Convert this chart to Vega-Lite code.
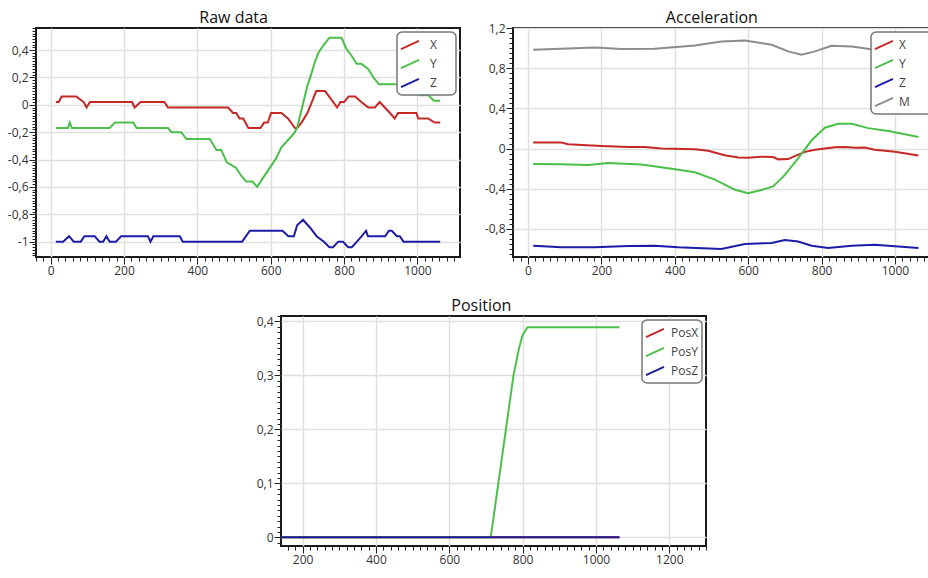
{
  "$schema": "https://vega.github.io/schema/vega-lite/v6.json",
  "background": "white",
  "padding": {"left": 6, "top": 9, "right": 0, "bottom": 0},
  "resolve": {"scale": {"color": "independent"}, "legend": {"color": "independent"}},
  "datasets": {
    "raw": [
      {"s": "X", "t": 14, "v": 0.02}, {"s": "X", "t": 22, "v": 0.02}, {"s": "X", "t": 30, "v": 0.06}, {"s": "X", "t": 70, "v": 0.06}, {"s": "X", "t": 90, "v": 0.02}, {"s": "X", "t": 98, "v": -0.02}, {"s": "X", "t": 107, "v": 0.02}, {"s": "X", "t": 222, "v": 0.02}, {"s": "X", "t": 229, "v": -0.02}, {"s": "X", "t": 245, "v": 0.02}, {"s": "X", "t": 310, "v": 0.02}, {"s": "X", "t": 320, "v": -0.02}, {"s": "X", "t": 484, "v": -0.02}, {"s": "X", "t": 497, "v": -0.06}, {"s": "X", "t": 506, "v": -0.06}, {"s": "X", "t": 515, "v": -0.1}, {"s": "X", "t": 525, "v": -0.1}, {"s": "X", "t": 539, "v": -0.17}, {"s": "X", "t": 572, "v": -0.17}, {"s": "X", "t": 582, "v": -0.13}, {"s": "X", "t": 592, "v": -0.13}, {"s": "X", "t": 601, "v": -0.06}, {"s": "X", "t": 629, "v": -0.06}, {"s": "X", "t": 647, "v": -0.1}, {"s": "X", "t": 666, "v": -0.17}, {"s": "X", "t": 672, "v": -0.17}, {"s": "X", "t": 684, "v": -0.13}, {"s": "X", "t": 700, "v": -0.06}, {"s": "X", "t": 712, "v": 0.02}, {"s": "X", "t": 724, "v": 0.1}, {"s": "X", "t": 748, "v": 0.1}, {"s": "X", "t": 765, "v": 0.04}, {"s": "X", "t": 781, "v": -0.02}, {"s": "X", "t": 790, "v": 0.02}, {"s": "X", "t": 800, "v": 0.02}, {"s": "X", "t": 812, "v": 0.06}, {"s": "X", "t": 830, "v": 0.06}, {"s": "X", "t": 847, "v": 0.02}, {"s": "X", "t": 866, "v": -0.02}, {"s": "X", "t": 884, "v": -0.02}, {"s": "X", "t": 897, "v": 0.02}, {"s": "X", "t": 911, "v": -0.02}, {"s": "X", "t": 925, "v": -0.06}, {"s": "X", "t": 938, "v": -0.1}, {"s": "X", "t": 947, "v": -0.06}, {"s": "X", "t": 997, "v": -0.06}, {"s": "X", "t": 1002, "v": -0.1}, {"s": "X", "t": 1029, "v": -0.1}, {"s": "X", "t": 1047, "v": -0.13}, {"s": "X", "t": 1062, "v": -0.13},
      {"s": "Y", "t": 14, "v": -0.17}, {"s": "Y", "t": 47, "v": -0.17}, {"s": "Y", "t": 52, "v": -0.13}, {"s": "Y", "t": 58, "v": -0.17}, {"s": "Y", "t": 161, "v": -0.17}, {"s": "Y", "t": 175, "v": -0.13}, {"s": "Y", "t": 225, "v": -0.13}, {"s": "Y", "t": 234, "v": -0.17}, {"s": "Y", "t": 320, "v": -0.17}, {"s": "Y", "t": 329, "v": -0.2}, {"s": "Y", "t": 356, "v": -0.2}, {"s": "Y", "t": 370, "v": -0.25}, {"s": "Y", "t": 434, "v": -0.25}, {"s": "Y", "t": 443, "v": -0.29}, {"s": "Y", "t": 452, "v": -0.33}, {"s": "Y", "t": 465, "v": -0.33}, {"s": "Y", "t": 480, "v": -0.42}, {"s": "Y", "t": 493, "v": -0.44}, {"s": "Y", "t": 505, "v": -0.46}, {"s": "Y", "t": 520, "v": -0.52}, {"s": "Y", "t": 533, "v": -0.56}, {"s": "Y", "t": 550, "v": -0.56}, {"s": "Y", "t": 563, "v": -0.6}, {"s": "Y", "t": 580, "v": -0.53}, {"s": "Y", "t": 600, "v": -0.45}, {"s": "Y", "t": 615, "v": -0.39}, {"s": "Y", "t": 629, "v": -0.31}, {"s": "Y", "t": 643, "v": -0.27}, {"s": "Y", "t": 663, "v": -0.21}, {"s": "Y", "t": 672, "v": -0.17}, {"s": "Y", "t": 680, "v": -0.08}, {"s": "Y", "t": 690, "v": 0.03}, {"s": "Y", "t": 700, "v": 0.14}, {"s": "Y", "t": 710, "v": 0.22}, {"s": "Y", "t": 720, "v": 0.31}, {"s": "Y", "t": 730, "v": 0.38}, {"s": "Y", "t": 745, "v": 0.44}, {"s": "Y", "t": 760, "v": 0.49}, {"s": "Y", "t": 793, "v": 0.49}, {"s": "Y", "t": 806, "v": 0.41}, {"s": "Y", "t": 820, "v": 0.36}, {"s": "Y", "t": 834, "v": 0.3}, {"s": "Y", "t": 847, "v": 0.3}, {"s": "Y", "t": 866, "v": 0.26}, {"s": "Y", "t": 880, "v": 0.2}, {"s": "Y", "t": 895, "v": 0.15}, {"s": "Y", "t": 975, "v": 0.15}, {"s": "Y", "t": 990, "v": 0.11}, {"s": "Y", "t": 1005, "v": 0.07}, {"s": "Y", "t": 1030, "v": 0.07}, {"s": "Y", "t": 1045, "v": 0.03}, {"s": "Y", "t": 1062, "v": 0.03},
      {"s": "Z", "t": 14, "v": -1}, {"s": "Z", "t": 34, "v": -1}, {"s": "Z", "t": 50, "v": -0.96}, {"s": "Z", "t": 63, "v": -1}, {"s": "Z", "t": 82, "v": -1}, {"s": "Z", "t": 92, "v": -0.96}, {"s": "Z", "t": 120, "v": -0.96}, {"s": "Z", "t": 133, "v": -1}, {"s": "Z", "t": 143, "v": -1}, {"s": "Z", "t": 152, "v": -0.96}, {"s": "Z", "t": 161, "v": -1}, {"s": "Z", "t": 178, "v": -1}, {"s": "Z", "t": 192, "v": -0.96}, {"s": "Z", "t": 265, "v": -0.96}, {"s": "Z", "t": 272, "v": -1}, {"s": "Z", "t": 280, "v": -0.96}, {"s": "Z", "t": 352, "v": -0.96}, {"s": "Z", "t": 360, "v": -1}, {"s": "Z", "t": 522, "v": -1}, {"s": "Z", "t": 543, "v": -0.92}, {"s": "Z", "t": 632, "v": -0.92}, {"s": "Z", "t": 648, "v": -0.96}, {"s": "Z", "t": 663, "v": -0.96}, {"s": "Z", "t": 672, "v": -0.88}, {"s": "Z", "t": 688, "v": -0.84}, {"s": "Z", "t": 708, "v": -0.9}, {"s": "Z", "t": 725, "v": -0.96}, {"s": "Z", "t": 745, "v": -1}, {"s": "Z", "t": 760, "v": -1.04}, {"s": "Z", "t": 770, "v": -1.04}, {"s": "Z", "t": 784, "v": -1}, {"s": "Z", "t": 797, "v": -1}, {"s": "Z", "t": 811, "v": -1.04}, {"s": "Z", "t": 821, "v": -1.04}, {"s": "Z", "t": 835, "v": -1}, {"s": "Z", "t": 848, "v": -0.96}, {"s": "Z", "t": 860, "v": -0.92}, {"s": "Z", "t": 865, "v": -0.96}, {"s": "Z", "t": 912, "v": -0.96}, {"s": "Z", "t": 922, "v": -0.92}, {"s": "Z", "t": 930, "v": -0.92}, {"s": "Z", "t": 944, "v": -0.96}, {"s": "Z", "t": 952, "v": -0.96}, {"s": "Z", "t": 962, "v": -1}, {"s": "Z", "t": 1062, "v": -1}
    ],
    "acc": [
      {"s": "X", "t": 14, "v": 0.059}, {"s": "X", "t": 91, "v": 0.06}, {"s": "X", "t": 109, "v": 0.043}, {"s": "X", "t": 200, "v": 0.026}, {"s": "X", "t": 273, "v": 0.016}, {"s": "X", "t": 318, "v": 0.016}, {"s": "X", "t": 364, "v": 0.0}, {"s": "X", "t": 455, "v": -0.007}, {"s": "X", "t": 491, "v": -0.023}, {"s": "X", "t": 536, "v": -0.066}, {"s": "X", "t": 573, "v": -0.089}, {"s": "X", "t": 600, "v": -0.092}, {"s": "X", "t": 636, "v": -0.082}, {"s": "X", "t": 668, "v": -0.085}, {"s": "X", "t": 682, "v": -0.108}, {"s": "X", "t": 709, "v": -0.105}, {"s": "X", "t": 727, "v": -0.075}, {"s": "X", "t": 755, "v": -0.033}, {"s": "X", "t": 782, "v": -0.013}, {"s": "X", "t": 809, "v": 0.0}, {"s": "X", "t": 836, "v": 0.013}, {"s": "X", "t": 864, "v": 0.016}, {"s": "X", "t": 891, "v": 0.007}, {"s": "X", "t": 918, "v": 0.01}, {"s": "X", "t": 945, "v": -0.013}, {"s": "X", "t": 1000, "v": -0.033}, {"s": "X", "t": 1064, "v": -0.069},
      {"s": "Y", "t": 14, "v": -0.154}, {"s": "Y", "t": 91, "v": -0.157}, {"s": "Y", "t": 164, "v": -0.164}, {"s": "Y", "t": 218, "v": -0.144}, {"s": "Y", "t": 309, "v": -0.16}, {"s": "Y", "t": 382, "v": -0.197}, {"s": "Y", "t": 455, "v": -0.236}, {"s": "Y", "t": 509, "v": -0.31}, {"s": "Y", "t": 564, "v": -0.41}, {"s": "Y", "t": 600, "v": -0.446}, {"s": "Y", "t": 636, "v": -0.413}, {"s": "Y", "t": 668, "v": -0.377}, {"s": "Y", "t": 700, "v": -0.262}, {"s": "Y", "t": 736, "v": -0.098}, {"s": "Y", "t": 773, "v": 0.082}, {"s": "Y", "t": 809, "v": 0.207}, {"s": "Y", "t": 845, "v": 0.246}, {"s": "Y", "t": 882, "v": 0.246}, {"s": "Y", "t": 927, "v": 0.203}, {"s": "Y", "t": 982, "v": 0.174}, {"s": "Y", "t": 1064, "v": 0.115},
      {"s": "Z", "t": 14, "v": -0.967}, {"s": "Z", "t": 91, "v": -0.984}, {"s": "Z", "t": 182, "v": -0.984}, {"s": "Z", "t": 273, "v": -0.97}, {"s": "Z", "t": 345, "v": -0.967}, {"s": "Z", "t": 409, "v": -0.984}, {"s": "Z", "t": 527, "v": -1.0}, {"s": "Z", "t": 591, "v": -0.95}, {"s": "Z", "t": 664, "v": -0.94}, {"s": "Z", "t": 700, "v": -0.911}, {"s": "Z", "t": 736, "v": -0.925}, {"s": "Z", "t": 773, "v": -0.967}, {"s": "Z", "t": 818, "v": -0.99}, {"s": "Z", "t": 882, "v": -0.967}, {"s": "Z", "t": 945, "v": -0.957}, {"s": "Z", "t": 1000, "v": -0.974}, {"s": "Z", "t": 1064, "v": -0.99},
      {"s": "M", "t": 14, "v": 0.984}, {"s": "M", "t": 91, "v": 0.993}, {"s": "M", "t": 182, "v": 1.007}, {"s": "M", "t": 255, "v": 0.99}, {"s": "M", "t": 345, "v": 0.993}, {"s": "M", "t": 455, "v": 1.026}, {"s": "M", "t": 527, "v": 1.066}, {"s": "M", "t": 591, "v": 1.075}, {"s": "M", "t": 664, "v": 1.033}, {"s": "M", "t": 709, "v": 0.967}, {"s": "M", "t": 745, "v": 0.934}, {"s": "M", "t": 782, "v": 0.967}, {"s": "M", "t": 827, "v": 1.023}, {"s": "M", "t": 882, "v": 1.016}, {"s": "M", "t": 945, "v": 0.984}, {"s": "M", "t": 1000, "v": 0.975}, {"s": "M", "t": 1064, "v": 0.97}
    ],
    "pos": [
      {"s": "PosX", "t": 14, "v": 0}, {"s": "PosX", "t": 1064, "v": 0},
      {"s": "PosY", "t": 14, "v": 0}, {"s": "PosY", "t": 713, "v": 0}, {"s": "PosY", "t": 775, "v": 0.3}, {"s": "PosY", "t": 790, "v": 0.35}, {"s": "PosY", "t": 800, "v": 0.375}, {"s": "PosY", "t": 813, "v": 0.389}, {"s": "PosY", "t": 1064, "v": 0.389},
      {"s": "PosZ", "t": 14, "v": 0}, {"s": "PosZ", "t": 1064, "v": 0}
    ]
  },
  "vconcat": [
    {
      "spacing": 22,
      "resolve": {"scale": {"color": "independent"}, "legend": {"color": "independent"}},
      "hconcat": [
        {
          "title": "Raw data",
          "width": 424, "height": 229,
          "data": {"name": "raw"},
          "mark": {"type": "line", "strokeWidth": 2, "clip": true},
          "encoding": {
            "x": {"field": "t", "type": "quantitative", "title": null,
              "scale": {"domain": [-40, 1116], "nice": false, "zero": false},
              "axis": {"tickCount": 58, "labelExpr": "datum.value % 200 === 0 ? toString(datum.value) : ''",
                "tickSize": {"condition": {"test": "datum.value % 200 === 0", "value": 7}, "value": 4},
                "gridOpacity": {"condition": {"test": "datum.value % 200 === 0", "value": 1}, "value": 0}}},
            "y": {"field": "v", "type": "quantitative", "title": null,
              "scale": {"domain": [-1.112, 0.561], "nice": false, "zero": false},
              "axis": {"tickCount": 84, "labelExpr": "abs(datum.value / 0.2 - round(datum.value / 0.2)) < 0.001 ? replace(toString(datum.value), '.', ',') : ''",
                "tickSize": {"condition": {"test": "abs(datum.value / 0.2 - round(datum.value / 0.2)) < 0.001", "value": 7}, "value": 4},
                "gridOpacity": {"condition": {"test": "abs(datum.value / 0.2 - round(datum.value / 0.2)) < 0.001", "value": 1}, "value": 0}}},
            "color": {"field": "s", "type": "nominal",
              "scale": {"domain": ["X", "Y", "Z"], "range": ["#c62828", "#4cbf4a", "#1c1ca8"]},
              "legend": {"orient": "top-right", "labelOffset": 10, "labelExpr": "datum.label + '\u00a0\u00a0\u00a0\u00a0\u00a0\u200b'"}}
          }
        },
        {
          "title": "Acceleration",
          "width": 426, "height": 229,
          "data": {"name": "acc"},
          "mark": {"type": "line", "strokeWidth": 2, "clip": true},
          "encoding": {
            "x": {"field": "t", "type": "quantitative", "title": null,
              "scale": {"domain": [-41, 1120], "nice": false, "zero": false},
              "axis": {"tickCount": 58, "labelExpr": "datum.value % 200 === 0 ? toString(datum.value) : ''",
                "tickSize": {"condition": {"test": "datum.value % 200 === 0", "value": 7}, "value": 4},
                "gridOpacity": {"condition": {"test": "datum.value % 200 === 0", "value": 1}, "value": 0}}},
            "y": {"field": "v", "type": "quantitative", "title": null,
              "scale": {"domain": [-1.08, 1.2], "nice": false, "zero": false},
              "axis": {"tickCount": 46, "labelExpr": "abs(datum.value / 0.4 - round(datum.value / 0.4)) < 0.001 ? replace(toString(datum.value), '.', ',') : ''",
                "tickSize": {"condition": {"test": "abs(datum.value / 0.4 - round(datum.value / 0.4)) < 0.001", "value": 7}, "value": 4},
                "gridOpacity": {"condition": {"test": "abs(datum.value / 0.4 - round(datum.value / 0.4)) < 0.001", "value": 1}, "value": 0}}},
            "color": {"field": "s", "type": "nominal",
              "scale": {"domain": ["X", "Y", "Z", "M"], "range": ["#c62828", "#4cbf4a", "#1c1ca8", "#8c8c8c"]},
              "legend": {"orient": "top-right", "labelOffset": 5, "labelExpr": "datum.label + '\u00a0\u00a0\u00a0\u00a0\u00a0\u00a0\u00a0\u200b'"}}
          }
        }
      ]
    },
    {
      "spacing": 0,
      "resolve": {"scale": {"color": "independent"}, "legend": {"color": "independent"}},
      "hconcat": [
        {
          "width": 219, "height": 10,
          "view": {"stroke": null},
          "data": {"values": []},
          "mark": "point",
          "encoding": {}
        },
        {
          "title": "Position",
          "width": 425, "height": 230,
          "data": {"name": "pos"},
          "mark": {"type": "line", "strokeWidth": 2, "clip": true},
          "encoding": {
            "x": {"field": "t", "type": "quantitative", "title": null,
              "scale": {"domain": [141, 1300], "nice": false, "zero": false},
              "axis": {"tickCount": 58, "labelExpr": "datum.value % 200 === 0 ? toString(datum.value) : ''",
                "tickSize": {"condition": {"test": "datum.value % 200 === 0", "value": 7}, "value": 4},
                "gridOpacity": {"condition": {"test": "datum.value % 200 === 0", "value": 1}, "value": 0}}},
            "y": {"field": "v", "type": "quantitative", "title": null,
              "scale": {"domain": [-0.016, 0.41], "nice": false, "zero": false},
              "axis": {"tickCount": 43, "labelExpr": "abs(datum.value / 0.1 - round(datum.value / 0.1)) < 0.001 ? replace(toString(datum.value), '.', ',') : ''",
                "tickSize": {"condition": {"test": "abs(datum.value / 0.1 - round(datum.value / 0.1)) < 0.001", "value": 7}, "value": 4},
                "gridOpacity": {"condition": {"test": "abs(datum.value / 0.1 - round(datum.value / 0.1)) < 0.001", "value": 1}, "value": 0}}},
            "color": {"field": "s", "type": "nominal",
              "scale": {"domain": ["PosX", "PosY", "PosZ"], "range": ["#c62828", "#4cbf4a", "#1c1c96"]},
              "legend": {"orient": "top-right", "labelOffset": 6}}
          }
        }
      ]
    }
  ],
  "spacing": 20,
  "config": {
    "font": "Open Sans",
    "view": {"stroke": "#1a1a1a", "strokeWidth": 2},
    "axis": {"domain": false, "labelFontSize": 12, "labelColor": "#333", "tickColor": "#222", "gridColor": "#e0e0e0", "gridWidth": 1.5, "labelOverlap": false, "labelFlush": false, "labelPadding": 1},
    "title": {"fontSize": 16, "fontWeight": "normal", "color": "#111", "frame": "bounds", "anchor": "middle", "offset": -4},
    "legend": {"orient": "top-right", "offset": 4, "title": null, "fillColor": "white", "strokeColor": "#777", "strokeWidth": 1.5, "cornerRadius": 5, "padding": 3, "labelFontSize": 12, "labelColor": "#444", "rowPadding": 0, "symbolType": "M-1,0.45L1,-0.45", "symbolSize": 324, "symbolStrokeWidth": 2}
  }
}
